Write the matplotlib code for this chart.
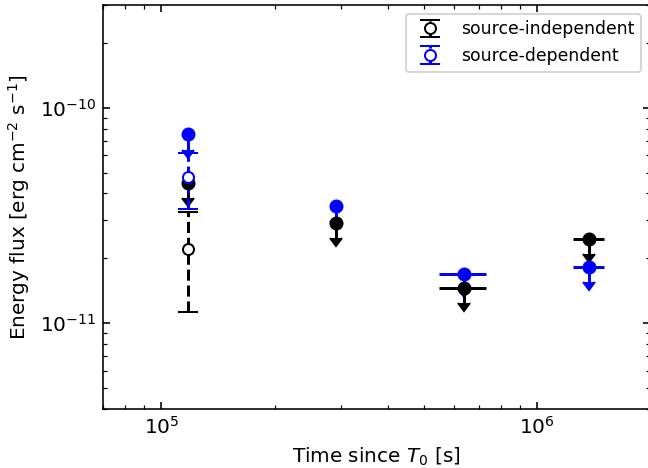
import numpy as np
import matplotlib
matplotlib.use("Agg")
import matplotlib.pyplot as plt

# upper limits (filled points with arrows)
t_ul = np.array([1.18e5, 2.92e5, 6.4e5, 1.38e6])
t_ul_err = np.array([0.0, 0.0, 0.93e5, 1.33e5])
ul_indep = np.array([4.46e-11, 2.93e-11, 1.45e-11, 2.46e-11])
ul_dep = np.array([7.52e-11, 3.51e-11, 1.69e-11, 1.83e-11])

# detections (open points)
t_det = np.array([1.18e5])
det_indep = np.array([2.2e-11])
det_indep_err = np.array([1.07e-11])
det_dep = np.array([4.75e-11])
det_dep_err = np.array([1.38e-11])

ARROW = 0.15  # arrow length, fraction of the flux

fig = plt.figure(figsize=(4.5, 3.25), dpi=144)
ax = fig.add_axes([103.3 / 648, 59.3 / 468, 546.7 / 648, 403.7 / 468])

for flux, col in [(ul_dep, "blue"), (ul_indep, "black")]:
    ax.errorbar(t_ul, flux, xerr=t_ul_err, fmt="none", ecolor=col,
                elinewidth=1.5, capsize=0)
    ax.errorbar(t_ul, flux, yerr=ARROW * flux, uplims=True, fmt="o",
                color=col, ms=6, elinewidth=1.5, capsize=2.8)

for flux, err, col, lab in [(det_indep, det_indep_err, "black", "source-independent"),
                            (det_dep, det_dep_err, "blue", "source-dependent")]:
    eb = ax.errorbar(t_det, flux, yerr=err, fmt="o", color=col, mfc="white",
                     ms=5.5, elinewidth=1.5, capsize=4.8, label=lab)
    eb[2][0].set_linestyle("--")

ax.set_xscale("log")
ax.set_yscale("log")
ax.set_xlim(7e4, 2e6)
ax.set_ylim(4e-12, 3e-10)
ax.tick_params(which="both", direction="in", top=True, right=True)
ax.set_xlabel("Time since $T_0$ [s]")
ax.set_ylabel("Energy flux [erg cm$^{-2}$ s$^{-1}$]")
ax.legend(loc="upper right", fontsize=8.6)

fig.savefig("out.png", dpi=144)
